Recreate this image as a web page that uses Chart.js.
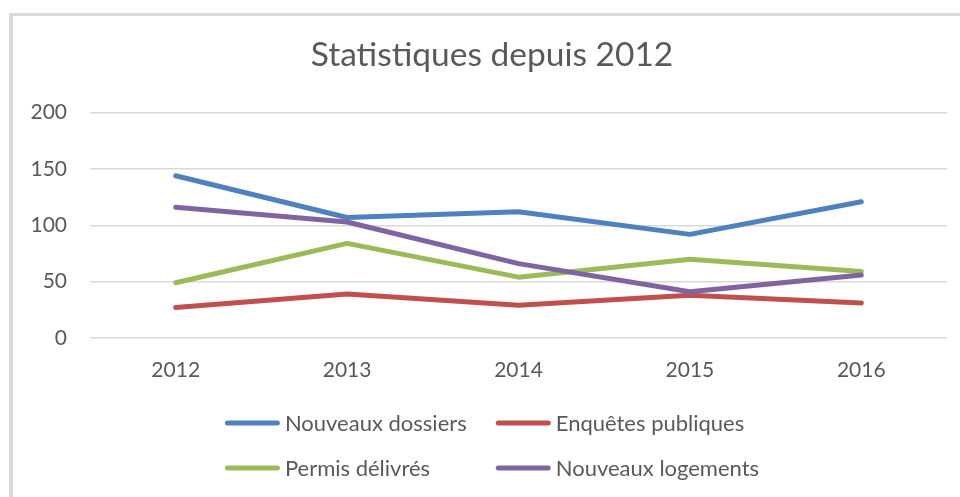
<!DOCTYPE html>
<html lang="fr">
<head>
<meta charset="utf-8">
<title>Statistiques depuis 2012</title>
<script src="https://cdn.jsdelivr.net/npm/chart.js@4.4.1/dist/chart.umd.min.js"></script>
<style>
    body { margin: 0; overflow: hidden; background: #fff; }
    .cadre {
        position: absolute; left: 9px; top: 13px;
        width: 1200px; height: 800px;
        border-left: 4px solid #d9d9d9;
        border-top: 3px solid #d9d9d9;
    }
    /* le cadre Excel depasse a droite : canvas plus large que la fenetre */
    .boite { position: absolute; left: 0; top: 0; width: 984px; height: 497px; }
</style>
</head>
<body>
<div class="cadre"></div>
<div class="boite"><canvas id="graph"></canvas></div>
<script>
// données
const annees = ['2012', '2013', '2014', '2015', '2016']
const nouveauxDossiers = [144, 107, 112, 92, 121]
const enquetesPubliques = [27, 39, 29, 38, 31]
const permisDelivres = [49, 84, 54, 70, 59]
const nouveauxLogements = [116, 103, 66, 41, 56]
const ticksY = [0, 50, 100, 150, 200]

const gris = '#595959'
const police = 'Lato, "Open Sans", sans-serif'

// legende sur 2 colonnes comme dans Excel
const legende2col = {
    id: 'legende2col',
    afterDraw(chart, args, opts) {
        const ctx = chart.ctx
        const sets = chart.data.datasets
        ctx.save()
        ctx.font = opts.font
        ctx.textBaseline = 'middle'
        ctx.textAlign = 'left'
        const cols = [0, 0]
        sets.forEach((ds, i) => {
            const w = opts.lineLen + opts.gap + ctx.measureText(ds.label).width
            cols[i % 2] = Math.max(cols[i % 2], w)
        })
        const centre = chart.width / 2
        const x0 = centre - (cols[0] + opts.colGap + cols[1]) / 2
        sets.forEach((ds, i) => {
            const x = i % 2 === 0 ? x0 : x0 + cols[0] + opts.colGap
            const y = chart.chartArea.bottom + opts.rowTop + Math.floor(i / 2) * opts.rowGap
            ctx.strokeStyle = ds.borderColor
            ctx.lineWidth = ds.borderWidth
            ctx.lineCap = 'round'
            ctx.beginPath()
            ctx.moveTo(x + 2.5, y)
            ctx.lineTo(x + opts.lineLen - 2.5, y)
            ctx.stroke()
            ctx.fillStyle = gris
            ctx.fillText(ds.label, x + opts.lineLen + opts.gap, y + 1)
        })
        ctx.restore()
    }
}

function serie(label, data, couleur, ordre) {
    return {
        label: label,
        data: data,
        borderColor: couleur,
        backgroundColor: couleur,
        borderWidth: 5,
        borderCapStyle: 'round',
        borderJoinStyle: 'round',
        pointRadius: 0,
        pointHoverRadius: 0,
        tension: 0,
        fill: false,
        order: ordre
    }
}

const data = {
    labels: annees,
    datasets: [
        serie('Nouveaux dossiers', nouveauxDossiers, '#4f81bd', 3),
        serie('Enquêtes publiques', enquetesPubliques, '#c0504d', 2),
        serie('Permis délivrés', permisDelivres, '#9bbb59', 1),
        serie('Nouveaux logements', nouveauxLogements, '#8064a2', 0)
    ]
}

const config = {
    type: 'line',
    data: data,
    plugins: [legende2col],
    options: {
        responsive: true,
        maintainAspectRatio: false,
        animation: false,
        layout: {
            padding: { left: 0, right: 0, top: 0, bottom: 119 }
        },
        plugins: {
            legend: { display: false },
            tooltip: { enabled: false },
            title: {
                display: true,
                text: 'Statistiques depuis 2012',
                color: gris,
                font: { family: police, size: 33.5, weight: 'normal', lineHeight: 1.2 },
                padding: { top: 35.5, bottom: 37 }
            },
            legende2col: {
                font: '22px ' + police,
                lineLen: 55,
                gap: 5,
                colGap: 29,
                rowTop: 85,
                rowGap: 45
            }
        },
        scales: {
            x: {
                offset: true,
                grid: { display: false, drawTicks: false },
                border: { display: false },
                ticks: { color: gris, padding: 20, font: { family: police, size: 21 } },
                afterFit: s => { s.height = 40 }
            },
            y: {
                min: 0,
                max: 200,
                afterBuildTicks: s => { s.ticks = ticksY.map(v => ({ value: v })) },
                grid: { color: '#d9d9d9', lineWidth: 1.5, drawTicks: false },
                border: { display: false },
                ticks: { color: gris, padding: 23, font: { family: police, size: 21 } },
                afterFit: s => { s.width = 90 }
            },
            // marge droite du cadre (axe vide)
            marge: {
                position: 'right',
                grid: { display: false, drawTicks: false },
                border: { display: false },
                ticks: { display: false },
                afterFit: s => { s.width = 37 }
            }
        }
    }
}

new Chart(document.getElementById('graph'), config)
</script>
</body>
</html>
